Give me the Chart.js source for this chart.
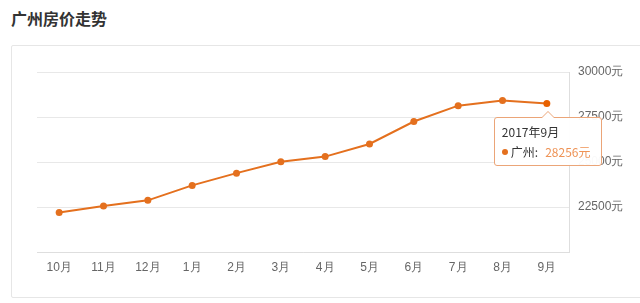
<!DOCTYPE html>
<html>
<head>
<meta charset="utf-8">
<script src="https://cdn.jsdelivr.net/npm/chart.js@4"></script>
<style>
    html, body { margin: 0; padding: 0; background: #fff; }
    body { width: 640px; height: 303px; position: relative; overflow: hidden;
           font-family: "Noto Sans CJK SC", "Noto Sans", sans-serif; }
    .title { position: absolute; left: 11px; top: 6px; font-size: 16px; font-weight: bold; color: #333; }
    .panel { position: absolute; left: 11px; top: 45px; width: 660px; height: 251px;
             border: 1px solid #e6e6e6; border-radius: 2px; }
    #chartWrap { position: absolute; left: 0; top: 0; width: 640px; height: 303px; }
    #tip { position: absolute; display: none; background: rgba(255,255,255,0.96);
           border: 1px solid #eba578; border-radius: 3px; padding: 5px 6px 5px 7px;
           font-size: 12px; line-height: 17px; color: #333; white-space: nowrap; box-sizing: border-box; }
    #tip:before, #tip:after { content: ''; position: absolute; left: 50%; border: solid transparent; }
    #tip:before { top: -7px; margin-left: -7px; border-width: 0 7px 7px 7px; border-bottom-color: #eba578; }
    #tip:after { top: -6px; margin-left: -6px; border-width: 0 6px 6px 6px; border-bottom-color: #fff; }
    #tip .t { margin-bottom: 3px; }
    #tip .dot { display: inline-block; width: 6px; height: 6px; border-radius: 3px;
                background: #e4701e; margin-right: 3px; vertical-align: 2px; }
    #tip .v { color: #ee9356; margin-left: 7px; }
</style>
</head>
<body>
<div class="title">广州房价走势</div>
<div class="panel"></div>
<div id="chartWrap"><canvas id="priceChart" width="640" height="303"></canvas></div>
<div id="tip"></div>
<script>
// 月份与房价数据
const months = ['10月', '11月', '12月', '1月', '2月', '3月', '4月', '5月', '6月', '7月', '8月', '9月'];
const prices = [22200, 22550, 22870, 23700, 24380, 25010, 25300, 26000, 27250, 28130, 28420, 28256];
const yTickValues = [20000, 22500, 25000, 27500, 30000];
const yTickLabels = ['', '22500元', '25000元', '27500元', '30000元'];
const tipTitle = '2017年9月';
const seriesName = '广州';
const activeIndex = 11;

// 自定义提示框（HTML）
function showTip(context) {
    const tip = document.getElementById('tip');
    const model = context.tooltip;
    if (model.opacity === 0 || !model.dataPoints || !model.dataPoints.length) {
        tip.style.display = 'none';
        return;
    }
    const dp = model.dataPoints[0];
    tip.innerHTML = '<div class="t">' + tipTitle + '</div>' +
        '<div><span class="dot"></span>' + seriesName + ':<span class="v">' + dp.raw + '元</span></div>';
    tip.style.display = 'block';
    tip.style.width = '108px';
    tip.style.left = (model.caretX - 53) + 'px';
    tip.style.top = (model.caretY + 14) + 'px';
}

const chart = new Chart(document.getElementById('priceChart'), {
    type: 'line',
    data: {
        labels: months,
        datasets: [{
            label: seriesName,
            data: prices,
            borderColor: '#e4701e',
            backgroundColor: '#e4701e',
            borderWidth: 2,
            pointRadius: 3.5,
            pointHoverRadius: 3.5,
            pointBorderWidth: 0,
            pointHoverBorderWidth: 0,
            tension: 0
        }]
    },
    options: {
        responsive: false,
        animation: false,
        events: [],
        layout: { padding: { left: 37, top: 72, right: 11, bottom: 21 } },
        plugins: {
            legend: { display: false },
            tooltip: { enabled: false, external: showTip, mode: 'index', intersect: false }
        },
        scales: {
            x: {
                offset: true,
                grid: { display: false, drawTicks: false },
                border: { display: true, color: '#dedede' },
                ticks: { color: '#666', font: { size: 12 }, padding: 8, maxRotation: 0, autoSkip: false },
                afterFit: s => { s.height = 30; }
            },
            y: {
                position: 'right',
                min: 20000,
                max: 30000,
                grid: { color: '#e8e8e8', drawTicks: false },
                border: { display: true, color: '#dedede' },
                afterBuildTicks: s => { s.ticks = yTickValues.map(v => ({ value: v })); },
                ticks: {
                    color: '#666',
                    font: { size: 12 },
                    padding: 9,
                    callback: (v, i) => yTickLabels[i]
                },
                afterFit: s => { s.width = 60; }
            }
        }
    }
});

// 默认显示最后一个月的提示
const act = [{ datasetIndex: 0, index: activeIndex }];
chart.setActiveElements(act);
chart.tooltip.setActiveElements(act, { x: 0, y: 0 });
chart.update();
</script>
</body>
</html>
